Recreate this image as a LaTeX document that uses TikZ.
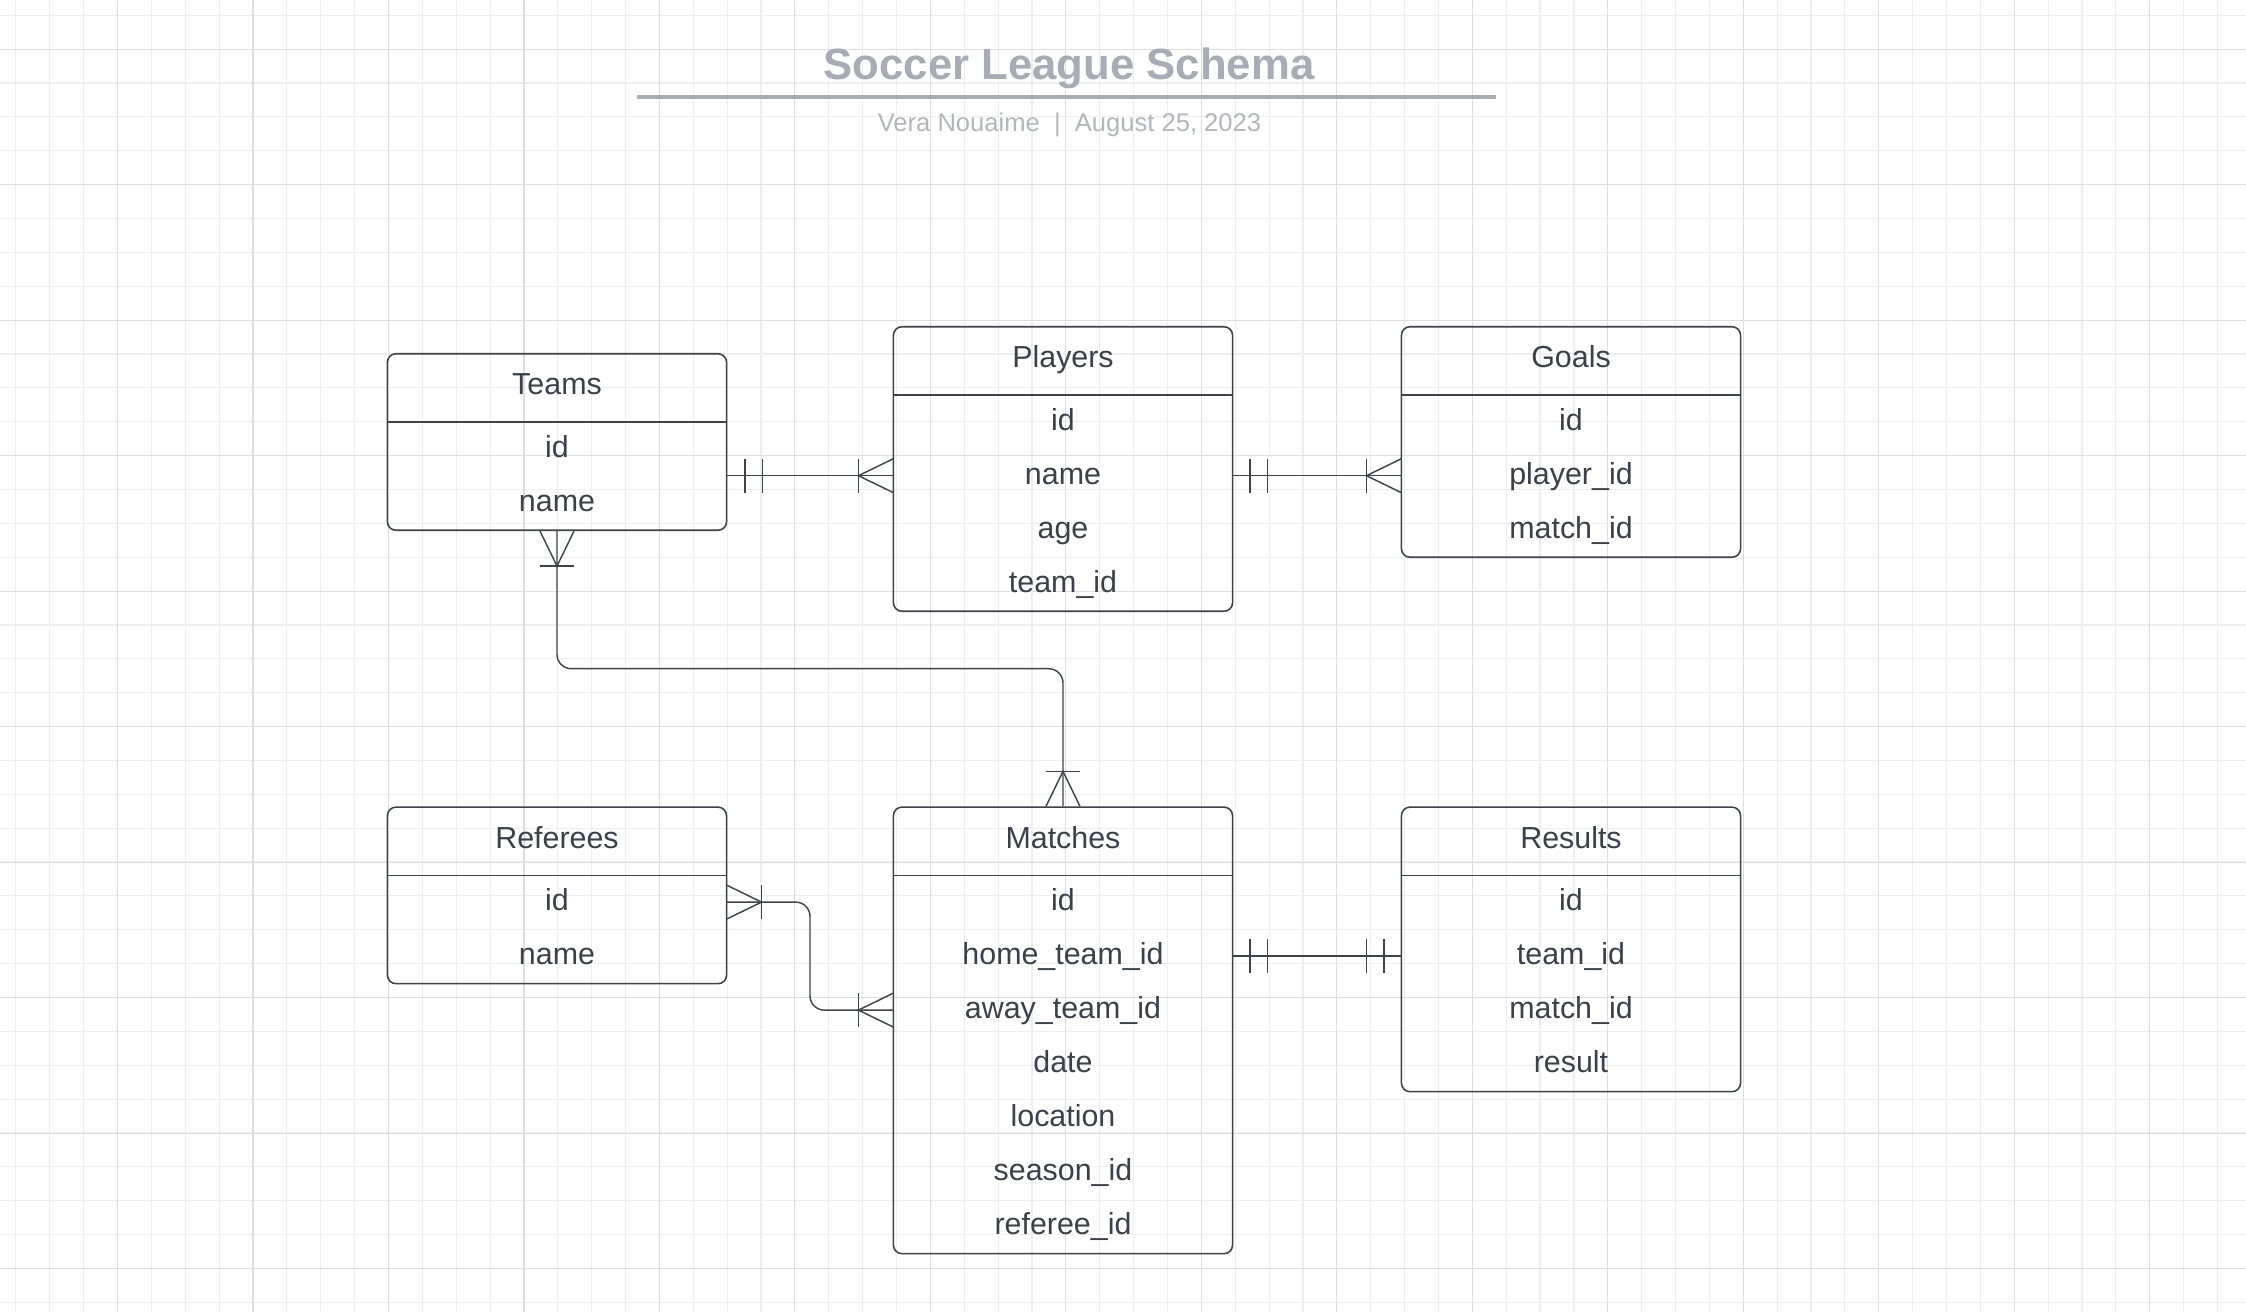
\documentclass[tikz,border=0pt]{standalone}
\usepackage{fontspec}
\setmainfont{Liberation Sans}
\usetikzlibrary{calc,fit}
\definecolor{ink}{RGB}{58,65,74}
\definecolor{edgec}{RGB}{62,67,73}
\definecolor{titlegray}{RGB}{168,173,181}
\definecolor{subgray}{RGB}{178,182,188}
\definecolor{gridminor}{RGB}{238,238,238}
\definecolor{gridmajor}{RGB}{222,222,222}
\tikzset{
  ebox/.style={draw=edgec, line width=0.55pt, rounded corners=3pt, inner sep=0pt},
  hdr/.style={minimum width=118.3pt, minimum height=23.59pt, inner sep=0pt,
    text height=7.3pt, text depth=2.54pt, font=\fontsize{10.64}{12}\selectfont, text=ink},
  fieldrow/.style={minimum width=118.3pt, minimum height=18.9pt, inner sep=0pt,
    text height=8.2pt, text depth=2pt, font=\fontsize{10.64}{12}\selectfont, text=ink},
  conn/.style={draw=edgec, line width=0.5pt},
  sepline/.style={draw=edgec, line width=0.55pt},
  titletext/.style={anchor=base, inner sep=0pt, text=titlegray, font=\fontsize{15.3}{18}\selectfont\bfseries},
  subtext/.style={anchor=base, inner sep=0pt, text=subgray, font=\fontsize{8.95}{11}\selectfont},
  gminor/.style={draw=gridminor, line width=0.4pt},
  gmajor/.style={draw=gridmajor, line width=0.4pt},
}
\newcommand\erentity[6]{%
  \node[hdr] (#1-title) at (#2+169,#3+33.7) {#4};
  \foreach \f [count=\i] in {#6} {\node[fieldrow] (#1-r\i) at (#2+169,#3+67.4+54*\i-27) {\f};}
  \node[ebox, fit=(#1-title)(#1-r#5)] (#1) {};
  \draw[sepline] (#1-title.south west) -- (#1-title.south east);
}
\newcommand\crowfoot[2]{\begin{scope}[shift={(#1)},rotate=#2]
  \draw[conn] (0,17) -- (35,0) -- (0,-17);
  \draw[conn] (35,-17) -- (35,17);
\end{scope}}
\newcommand\dblbar[2]{\begin{scope}[shift={(#1)},rotate=#2]
  \draw[conn] (17.5,-17) -- (17.5,17) (35,-17) -- (35,17);
\end{scope}}
\begin{document}
\begin{tikzpicture}[x=0.35pt,y=-0.35pt]
  \fill[white] (0,0) rectangle (2246,1312);
  \useasboundingbox (0,0) rectangle (2246,1312);
  % grid
  \foreach \k in {0,...,66} {\draw[gminor] (15.9+33.87*\k,0) -- (15.9+33.87*\k,1312);}
  \foreach \k in {0,...,38} {\draw[gminor] (0,15.3+33.87*\k) -- (2246,15.3+33.87*\k);}
  \foreach \k in {0,...,16} {\draw[gmajor] (117.5+135.48*\k,0) -- (117.5+135.48*\k,1312);}
  \foreach \k in {0,...,9} {\draw[gmajor] (0,49.3+135.48*\k) -- (2246,49.3+135.48*\k);}
  % title
  \node[titletext] (title) at (1069,80) {Soccer League Schema};
  \draw[titlegray, line width=1.15pt] (637,97) -- (1496,97);
  \node[subtext] (subtitle) at (1069.5,132) {Vera Nouaime\ \ |\ \ August 25, 2023};
  % entities
  \erentity{teams}{388}{354.3}{Teams}{2}{id,name}
  \erentity{players}{894}{327.3}{Players}{4}{id,name,age,team\_id}
  \erentity{goals}{1402}{327.3}{Goals}{3}{id,player\_id,match\_id}
  \erentity{referees}{388}{807.7}{Referees}{2}{id,name}
  \erentity{matches}{894}{807.7}{Matches}{7}{id,home\_team\_id,away\_team\_id,date,location,season\_id,referee\_id}
  \erentity{results}{1402}{807.7}{Results}{4}{id,team\_id,match\_id,result}
  % connectors
  \draw[conn] (teams.east |- players-r2.west) -- (players-r2.west);
  \dblbar{teams.east |- players-r2.west}{0}
  \crowfoot{players-r2.west}{180}
  \draw[conn] (players-r2.east) -- (goals-r2.west);
  \dblbar{players-r2.east}{0}
  \crowfoot{goals-r2.west}{180}
  \draw[conn] (matches-r2.east) -- (results-r2.west);
  \dblbar{matches-r2.east}{0}
  \dblbar{results-r2.west}{180}
  \draw[conn, rounded corners=5pt] (teams.south) |- ($(teams.south)!0.5!(matches.north)$) -| (matches.north);
  \crowfoot{teams.south}{-90}
  \crowfoot{matches.north}{90}
  \draw[conn, rounded corners=5pt] (referees-r1.east) -| ($(referees.east)!0.5!(matches.west)$) |- (matches-r3.west);
  \crowfoot{referees-r1.east}{0}
  \crowfoot{matches-r3.west}{180}
\end{tikzpicture}
\end{document}
